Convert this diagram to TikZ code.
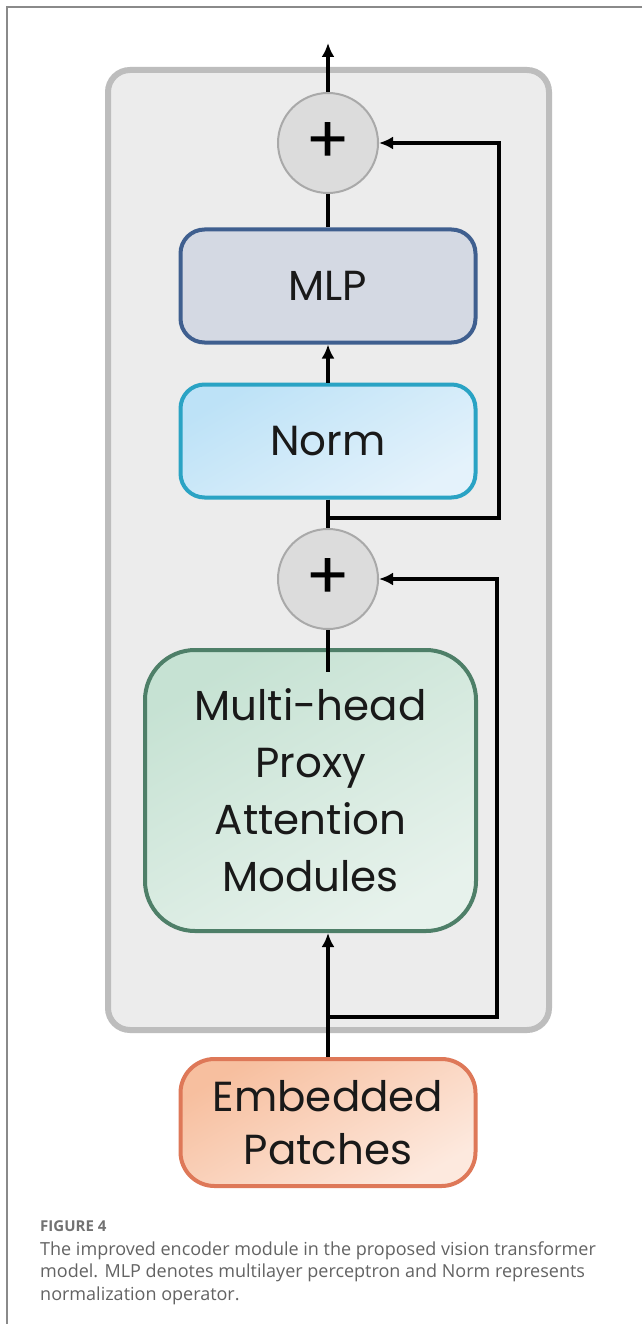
\documentclass[tikz,border=0pt]{standalone}
\usepackage{fontspec}
\setmainfont{Poppins}
\newfontfamily\capfont{Open Sans}
\usetikzlibrary{arrows.meta}

\definecolor{framegray}{HTML}{8A8A8A}
\definecolor{outerline}{HTML}{BDBDBD}
\definecolor{outerfill}{HTML}{ECECEC}
\definecolor{addline}{HTML}{A9A9A9}
\definecolor{addfill}{HTML}{DCDCDC}
\definecolor{mlpline}{HTML}{3F5F8F}
\definecolor{mlpfill}{HTML}{D4D9E3}
\definecolor{normline}{HTML}{2AA3C4}
\definecolor{normdark}{HTML}{BDE2F7}
\definecolor{normlight}{HTML}{E4F2FB}
\definecolor{attnline}{HTML}{4E7F68}
\definecolor{attndark}{HTML}{C6E2D3}
\definecolor{attnlight}{HTML}{E7F2EC}
\definecolor{embline}{HTML}{DE7858}
\definecolor{embdark}{HTML}{F7BF9F}
\definecolor{emblight}{HTML}{FDE9DE}
\definecolor{captext}{HTML}{636363}

\begin{document}
\begin{tikzpicture}[x=1pt, y=-1pt,
    >={Latex[length=14pt,width=13pt]},
    conn/.style={line width=3.5pt, black},
    block/.style={rounded corners=24pt, line width=4pt, minimum width=295pt,
        minimum height=113pt, align=center, text=black!90,
        font=\fontsize{42}{52}\selectfont},
    addnode/.style={circle, minimum size=100pt, inner sep=0pt, draw=addline,
        line width=2pt, fill=addfill, font=\fontsize{66}{66}\selectfont}]
    \useasboundingbox (0,0) rectangle (642,1324);
    \fill[white] (0,0) rectangle (642,1324);
    \draw[framegray, line width=2pt] (642,7) -- (7,7) -- (7,1324);

    % encoder container
    \draw[draw=outerline, fill=outerfill, line width=6pt, rounded corners=22pt] (108,70) rectangle (549,1030);

    % blocks
    \node[addnode] (addtop) at (328,143) {+};
    \node[block, draw=mlpline, fill=mlpfill] (mlp) at (328,286) {MLP};
    \node[block, draw=normline, top color=normdark, bottom color=normlight, shading angle=30] (norm) at (328,441) {Norm};
    \node[addnode] (addbot) at (328,579) {+};
    \node[block, draw=attnline, top color=attndark, bottom color=attnlight, shading angle=30,
        minimum width=331pt, minimum height=281pt, rounded corners=50pt,
        font=\fontsize{42}{57}\selectfont] (attn) at (310.5,790.5) {Multi-head\\Proxy\\Attention\\Modules};
    \node[block, draw=embline, top color=embdark, bottom color=emblight, shading angle=30,
        minimum width=295pt, minimum height=127pt, rounded corners=34pt,
        font=\fontsize{42}{53}\selectfont] (embed) at (328,1122.5) {Embedded\\Patches};

    \coordinate (out) at (328,43);
    \coordinate (split1) at (328,518);
    \coordinate (ret1) at (499,518);
    \coordinate (split2) at (328,1017);
    \coordinate (ret2) at (497,1017);

    % connectors
    \draw[conn, ->] (addtop.north) -- (out);
    \draw[conn] (mlp.north) -- (addtop.south);
    \draw[conn, ->] (norm.north) -- (mlp.south);
    \draw[conn] (norm.south) -- (addbot.north);
    \draw[conn, ->] (split1) -- (ret1) |- (addtop.east);
    \draw[conn] (addbot.south) -- ([yshift=-24pt]addbot.south |- attn.north);
    \draw[conn, ->] (embed.north) -- (embed.north |- attn.south);
    \draw[conn, ->] (split2) -- (ret2) |- (addbot.east);

    % caption
    \node[anchor=base west, inner sep=0pt, text=captext!90, font=\capfont\fontsize{15}{18}\selectfont\bfseries] (figno) at (40,1231) {FIGURE 4};
    \node[anchor=base west, inner sep=0pt, text=captext, align=left,
        font=\capfont\fontsize{18}{22.5}\selectfont] (cap) at (40,1300)
        {The improved encoder module in the proposed vision transformer\\model. MLP denotes multilayer perceptron and Norm represents\\normalization operator.};
\end{tikzpicture}
\end{document}
